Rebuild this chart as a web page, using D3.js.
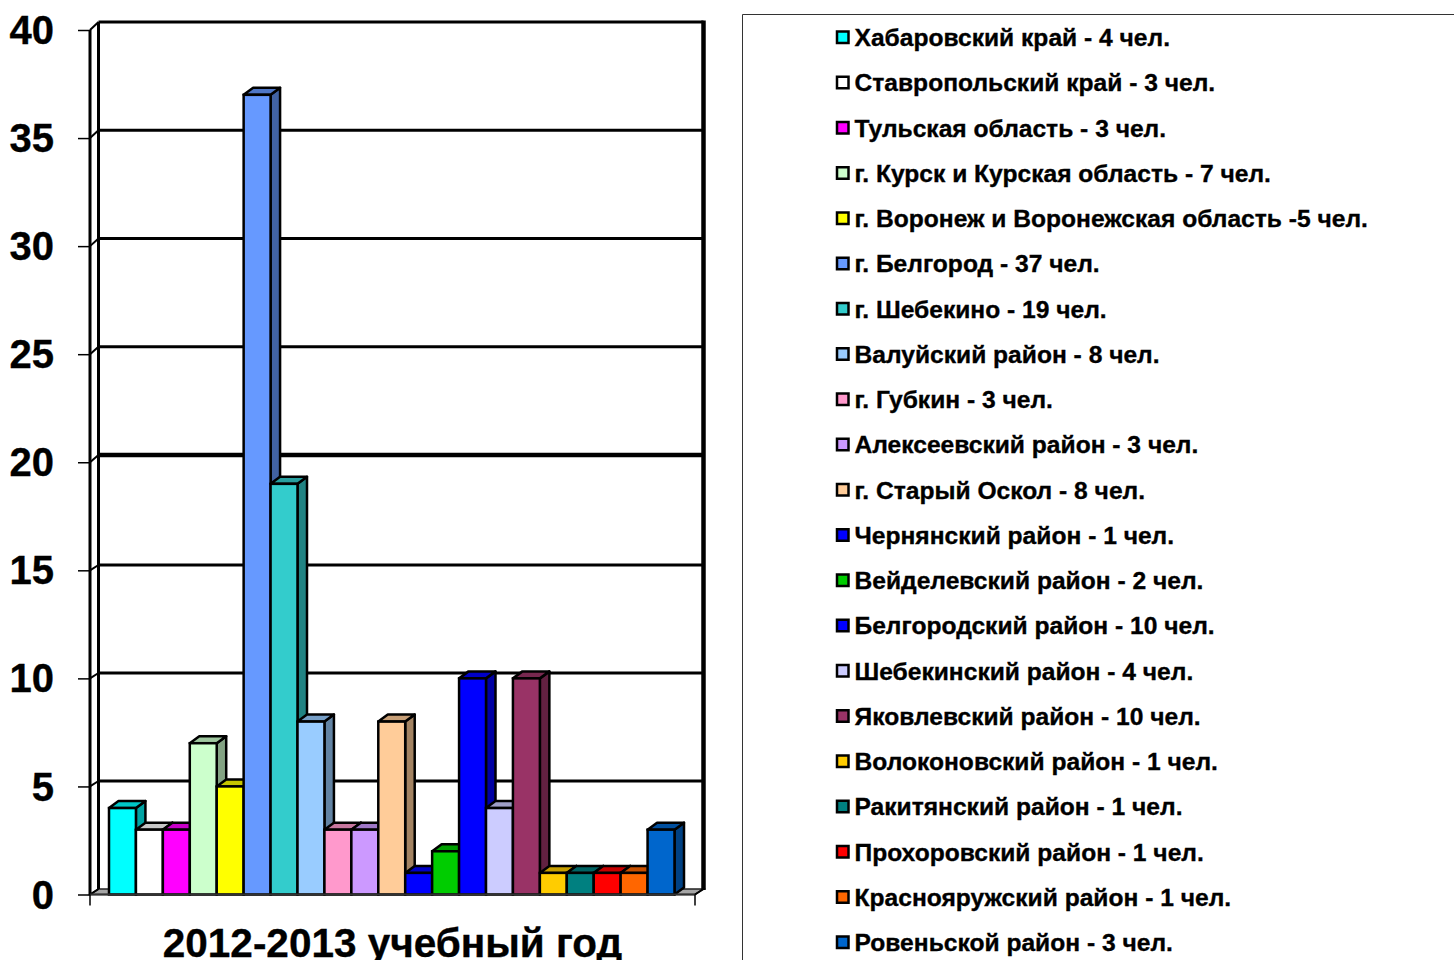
<!DOCTYPE html>
<html>
<head>
<meta charset="utf-8">
<script src="https://cdn.jsdelivr.net/npm/d3@7"></script>
<style>
  html, body { margin: 0; padding: 0; background: #fff; overflow: hidden; }
  text { font-family: "Liberation Sans", Arial, sans-serif; font-weight: bold; fill: #000; stroke: #000; stroke-width: 0.35px; }
</style>
</head>
<body>
<script>
var regions = ["Хабаровский край", "Ставропольский край", "Тульская область", "г. Курск и Курская область",
  "г. Воронеж и Воронежская область", "г. Белгород", "г. Шебекино", "Валуйский район", "г. Губкин",
  "Алексеевский район", "г. Старый Оскол", "Чернянский район", "Вейделевский район", "Белгородский район",
  "Шебекинский район", "Яковлевский район", "Волоконовский район", "Ракитянский район", "Прохоровский район",
  "Краснояружский район", "Ровеньской район"];
var counts = [4, 3, 3, 7, 5, 37, 19, 8, 3, 3, 8, 1, 2, 10, 4, 10, 1, 1, 1, 1, 3];
var colors = ["#00ffff", "#ffffff", "#ff00ff", "#ccffcc", "#ffff00", "#6699ff", "#33cccc", "#99ccff", "#ff99cc",
  "#cc99ff", "#ffcc99", "#0000ff", "#00cc00", "#0000ff", "#ccccff", "#993366", "#ffcc00", "#008080", "#ff0000",
  "#ff6600", "#0066cc"];
var legendLabels = ["Хабаровский край - 4 чел.", "Ставропольский край - 3 чел.", "Тульская область - 3 чел.",
  "г. Курск и Курская область - 7 чел.", "г. Воронеж и Воронежская область -5 чел.", "г. Белгород - 37 чел.",
  "г. Шебекино - 19 чел.", "Валуйский район - 8 чел.", "г. Губкин - 3 чел.", "Алексеевский район - 3 чел.",
  "г. Старый Оскол - 8 чел.", "Чернянский район - 1 чел.", "Вейделевский район - 2 чел.",
  "Белгородский район - 10 чел.", "Шебекинский район - 4 чел.", "Яковлевский район - 10 чел.",
  "Волоконовский район - 1 чел.", "Ракитянский район - 1 чел.", "Прохоровский район - 1 чел.",
  "Краснояружский район - 1 чел.", "Ровеньской район - 3 чел."];
var yTicks = [0, 5, 10, 15, 20, 25, 30, 35, 40];
var xLabel = "2012-2013 учебный год";

var width = 1454, height = 960;
var x0 = 90, x1 = 695;
var wallDx = 8.5;
var barDx = 9.5, barDy = -7;

var svg = d3.select("body").append("svg")
  .attr("width", width)
  .attr("height", height)
  .style("display", "block");

var y = d3.scaleLinear().domain([0, 40]).range([894.5, 30]);
// back wall isn't quite parallel to the front in the original, hence its own scale
var yBack = d3.scaleLinear().domain([0, 15, 20, 40]).range([889, 565, 455, 22]);
var x = d3.scaleBand().domain(regions).range([109, 674.5]).paddingInner(0);

// floor
svg.append("polygon")
  .attr("points", [[x0, y(0)], [x0 + wallDx, yBack(0)], [x1 + wallDx, yBack(0)], [x1, y(0)]].join(" "))
  .attr("fill", "#a6a6a6")
  .attr("stroke", "#222")
  .attr("stroke-width", 1.5);

// back wall grid
svg.selectAll(".grid")
  .data(yTicks.filter(function (d) { return d > 0; }))
  .enter()
  .append("line")
  .attr("class", "grid")
  .attr("x1", x0 + wallDx)
  .attr("x2", x1 + wallDx)
  .attr("y1", function (d) { return yBack(d); })
  .attr("y2", function (d) { return yBack(d); })
  .attr("stroke", "#000")
  .attr("stroke-width", function (d) { return d === 20 ? 4.5 : 3; });

// diagonals on side wall
svg.selectAll(".diag")
  .data(yTicks)
  .enter()
  .append("line")
  .attr("class", "diag")
  .attr("x1", x0)
  .attr("x2", x0 + wallDx)
  .attr("y1", function (d) { return y(d); })
  .attr("y2", function (d) { return yBack(d); })
  .attr("stroke", "#000")
  .attr("stroke-width", 2);

// wall edges
svg.append("line").attr("x1", x0 + wallDx).attr("x2", x0 + wallDx)
  .attr("y1", yBack(40)).attr("y2", yBack(0))
  .attr("stroke", "#000").attr("stroke-width", 3);
svg.append("line").attr("x1", x0).attr("x2", x0)
  .attr("y1", y(40)).attr("y2", y(0))
  .attr("stroke", "#000").attr("stroke-width", 3);
svg.append("line").attr("x1", x1 + wallDx).attr("x2", x1 + wallDx)
  .attr("y1", yBack(40) - 1.5).attr("y2", yBack(0) + 1)
  .attr("stroke", "#000").attr("stroke-width", 4.5);
svg.append("line").attr("x1", x1).attr("x2", x1 + wallDx)
  .attr("y1", y(0)).attr("y2", yBack(0))
  .attr("stroke", "#000").attr("stroke-width", 2);

// bars, left to right so the next front hides the previous side
var bar = svg.selectAll(".bar")
  .data(regions)
  .enter()
  .append("g")
  .attr("class", "bar");

bar.each(function (d, i) {
  var g = d3.select(this);
  var l = x(d), r = l + x.bandwidth(), t = y(counts[i]), b = y(0);
  var c = d3.color(colors[i]);
  g.append("polygon")
    .attr("points", [[r, t], [r + barDx, t + barDy], [r + barDx, b + barDy], [r, b]].join(" "))
    .attr("fill", c.darker(1.25))
    .attr("stroke", "#000").attr("stroke-width", 2.5).attr("stroke-linejoin", "round");
  g.append("polygon")
    .attr("points", [[l, t], [l + barDx, t + barDy], [r + barDx, t + barDy], [r, t]].join(" "))
    .attr("fill", c.darker(0.7))
    .attr("stroke", "#000").attr("stroke-width", 2.5).attr("stroke-linejoin", "round");
  g.append("rect")
    .attr("x", l)
    .attr("y", t)
    .attr("width", x.bandwidth())
    .attr("height", b - t)
    .attr("fill", colors[i])
    .attr("stroke", "#000")
    .attr("stroke-width", 2.5);
});

// baseline
svg.append("line").attr("x1", x0).attr("x2", x1)
  .attr("y1", y(0)).attr("y2", y(0))
  .attr("stroke", "#333").attr("stroke-width", 2);

// y axis
var yAxis = svg.append("g")
  .attr("transform", "translate(" + x0 + ",0)")
  .call(d3.axisLeft(y).tickValues(yTicks).tickSize(12).tickPadding(24));
yAxis.select(".domain").remove();
yAxis.selectAll("line").attr("stroke", "#000").attr("stroke-width", 1.5);
yAxis.selectAll("text")
  .style("font-size", "40px")
  .attr("dy", "0.34em");

// the two end ticks of the category axis
svg.selectAll(".xtick")
  .data([x0, x1])
  .enter()
  .append("line")
  .attr("class", "xtick")
  .attr("x1", function (d) { return d; })
  .attr("x2", function (d) { return d; })
  .attr("y1", y(0))
  .attr("y2", y(0) + 11)
  .attr("stroke", "#000")
  .attr("stroke-width", 1.5);

// descender runs off the page in the original too
svg.append("text")
  .attr("x", 392.5)
  .attr("y", 956.5)
  .attr("text-anchor", "middle")
  .style("font-size", "40.5px")
  .text(xLabel);

// legend
svg.append("path")
  .attr("d", "M742.5,961V14.5H1455")
  .attr("fill", "none")
  .attr("stroke", "#333")
  .attr("stroke-width", 1);

var legendY = d3.scalePoint().domain(regions).range([37.5, 942.5]);

var item = svg.selectAll(".legend-item")
  .data(regions)
  .enter()
  .append("g")
  .attr("class", "legend-item")
  .attr("transform", function (d) { return "translate(0," + legendY(d) + ")"; });

item.append("rect")
  .attr("x", 837)
  .attr("y", -6)
  .attr("width", 11.5)
  .attr("height", 11.5)
  .attr("fill", function (d, i) { return colors[i]; })
  .attr("stroke", "#000")
  .attr("stroke-width", 2.5);

item.append("text")
  .attr("x", 854.5)
  .attr("y", 8.5)
  .style("font-size", "24.6px")
  .text(function (d, i) { return legendLabels[i]; });
</script>
</body>
</html>
